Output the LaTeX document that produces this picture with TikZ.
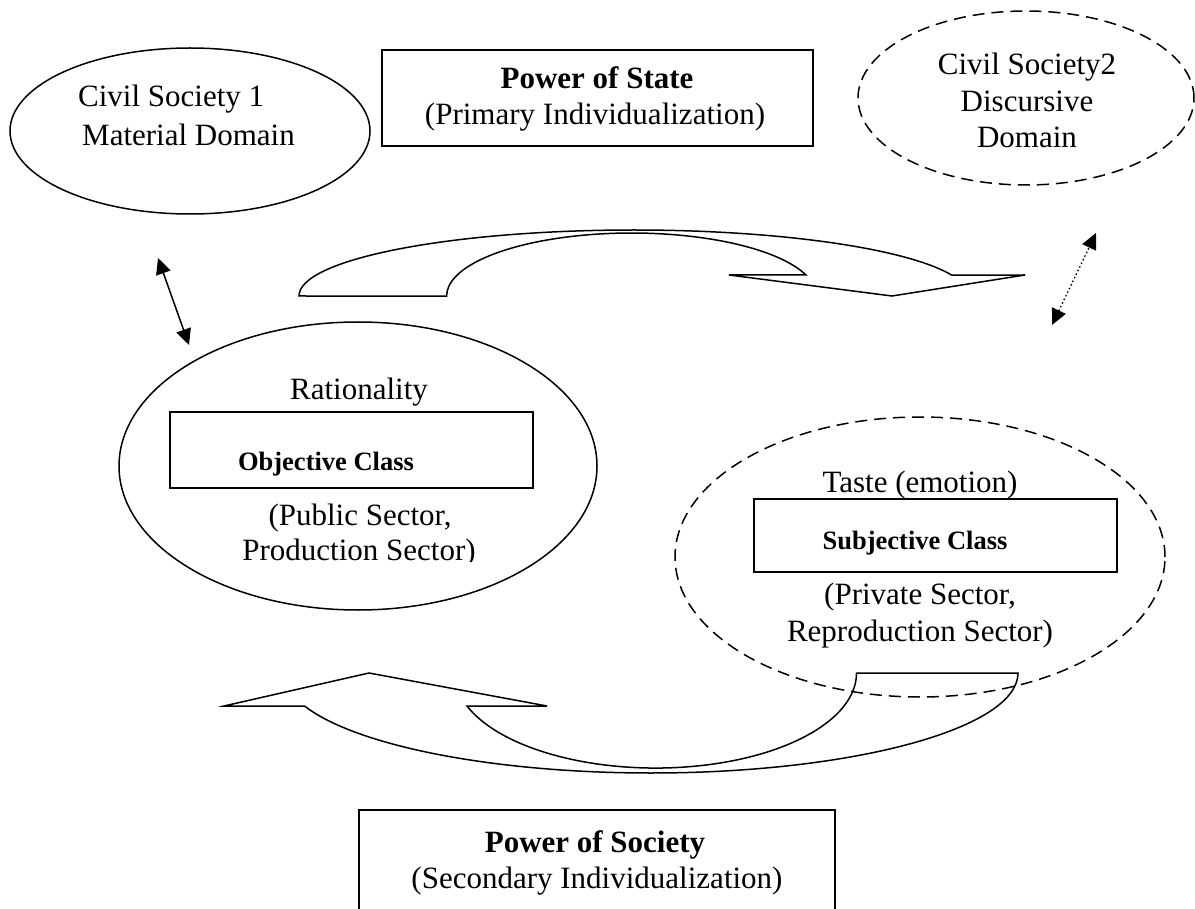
\documentclass[tikz,border=0pt]{standalone}
\usepackage{fontspec}
\setmainfont{Liberation Serif}
\usetikzlibrary{shapes.geometric,arrows.meta}
\begin{document}
\begin{tikzpicture}[x=1pt,y=-1pt,
  txt/.style={font=\fontsize{31}{36}\selectfont, anchor=base, inner sep=0pt},
  btxt/.style={font=\fontsize{31}{36}\selectfont\bfseries, anchor=base, inner sep=0pt},
  sbtxt/.style={font=\fontsize{26.5}{30}\selectfont\bfseries, anchor=base, inner sep=0pt},
  thinline/.style={line width=1.5pt, line join=miter},
  oval/.style={ellipse, draw, line width=1.5pt, inner sep=0pt},
  dashoval/.style={oval, dash pattern=on 12pt off 7pt},
  boxed/.style={draw, line width=1.5pt, inner sep=0pt},
  dbl/.style={line width=1.5pt, {Triangle[length=16pt,width=15pt]}-{Triangle[length=16pt,width=15pt]}},
  dotdbl/.style={line width=1.3pt, dash pattern=on 1.5pt off 2.5pt, {Triangle[length=16pt,width=15pt]}-{Triangle[length=16pt,width=15pt]}}
]
\path[use as bounding box, clip] (0,0) rectangle (1195,909);

% ovals
\node[oval, minimum width=360pt, minimum height=166pt] (cs1) at (190,131) {};
\node[dashoval, minimum width=336pt, minimum height=174pt] (cs2) at (1026,98) {};
\node[oval, minimum width=478pt, minimum height=288pt] (rat) at (358,466) {};
\node[dashoval, minimum width=490pt, minimum height=280pt] (taste) at (920,557) {};

% boxes
\node[boxed, minimum width=431pt, minimum height=96pt] (state) at (597.5,98) {};
\node[boxed, minimum width=476pt, minimum height=150pt] (society) at (597,885) {};
\node[boxed, minimum width=363pt, minimum height=76pt] (obj) at (351.5,450) {};
\node[boxed, minimum width=363pt, minimum height=73pt] (subj) at (935.5,535.5) {};

% texts
\node[txt, anchor=base west] (cs1a) at (78,107) {Civil Society 1};
\node[txt, anchor=base west] (cs1b) at (82,146) {Material Domain};
\node[btxt] (st1) at (597,89) {Power of State};
\node[txt] (st2) at (595,125) {(Primary Individualization)};
\node[txt] (cs2a) at (1027,75) {Civil Society2};
\node[txt] (cs2b) at (1027,112) {Discursive};
\node[txt] (cs2c) at (1027,148) {Domain};
\node[txt] (ratt) at (359,400) {Rationality};
\node[sbtxt] (objt) at (326,470) {Objective Class};
\node[txt] (pub1) at (360,525) {(Public Sector,};
\begin{scope}
\clip (100,530) rectangle (620,561);
\node[txt] (pub2) at (359,560) {Production Sector)};
\end{scope}
\node[txt] (tastet) at (920,493) {Taste (emotion)};
\node[sbtxt] (subjt) at (915,549) {Subjective Class};
\node[txt] (pri1) at (920,604) {(Private Sector,};
\node[txt] (pri2) at (920,641) {Reproduction Sector)};
\node[btxt] (so1) at (595,852) {Power of Society};
\node[txt] (so2) at (597,888) {(Secondary Individualization)};

% curved arrows
\draw[thinline] (299,296) arc[start angle=180, end angle=341.5, x radius=335, y radius=66]
  -- (1025,275) -- (892,296) -- (729,275) -- (806,275)
  arc[start angle=340.5, end angle=180, x radius=185, y radius=63] -- cycle;
\draw[thinline] (1018,673) arc[start angle=0, end angle=160.7, x radius=367, y radius=100]
  -- (224,706) -- (369,673) -- (547,706) -- (467,706)
  arc[start angle=159.7, end angle=0, x radius=201, y radius=95] -- cycle;

% small arrows
\coordinate (d1) at (158,258);
\coordinate (d2) at (189,345);
\draw[dbl] (d1) -- (d2);
\coordinate (e1) at (1052,325);
\coordinate (e2) at (1096,233);
\draw[dotdbl] (e1) -- (e2);
\end{tikzpicture}
\end{document}
